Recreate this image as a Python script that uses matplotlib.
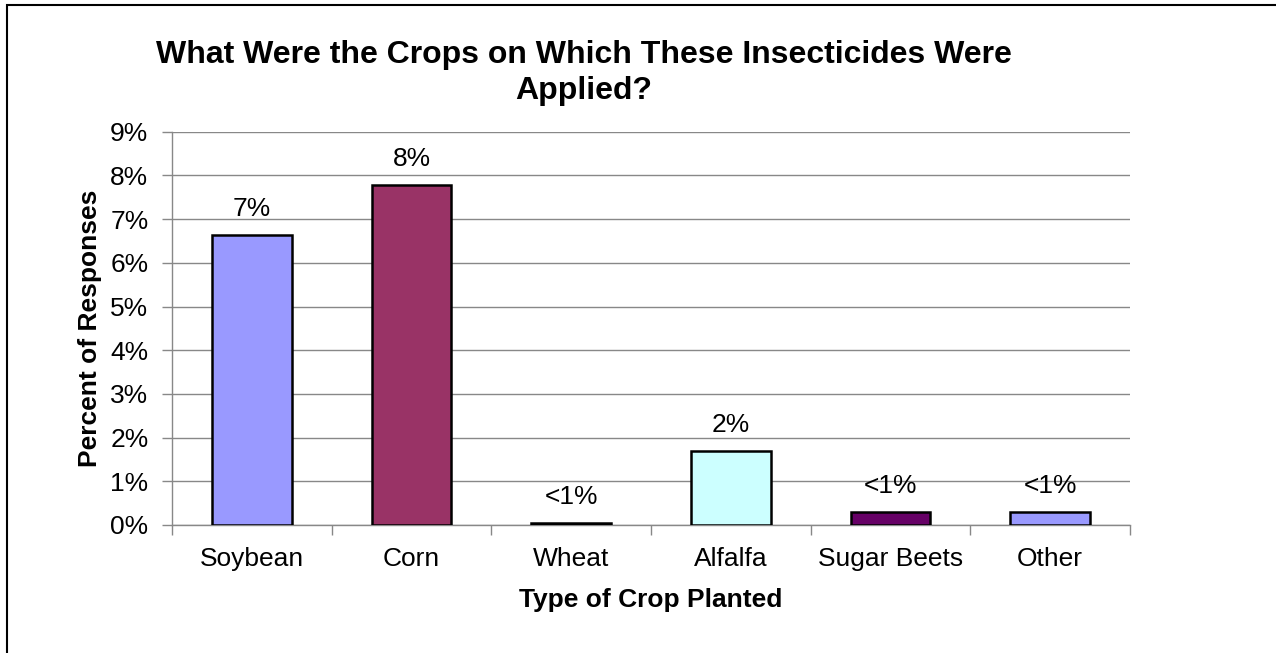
import matplotlib.pyplot as plt
import matplotlib.patches as mpatches
from matplotlib.ticker import FuncFormatter

crops = ["Soybean", "Corn", "Wheat", "Alfalfa", "Sugar Beets", "Other"]
percent = [6.64, 7.78, 0.05, 1.70, 0.30, 0.30]
bar_labels = ["7%", "8%", "<1%", "2%", "<1%", "<1%"]
bar_colors = ["#9999FF", "#993366", "#FFFFCC", "#CCFFFF", "#660066", "#9999FF"]

plt.rcParams['font.family'] = ['Liberation Sans', 'DejaVu Sans']

fig = plt.figure(figsize=(12.76, 6.53), dpi=100)
ax = fig.add_axes([172 / 1276, 128 / 653, 958 / 1276, 393.3 / 653])

x = list(range(len(crops)))
ax.bar(x, percent, width=0.5, color=bar_colors, edgecolor="black", linewidth=1.8, zorder=3)

for xi, v, lab in zip(x, percent, bar_labels):
    ax.annotate(lab, (xi, v), xytext=(0, 10), textcoords="offset points",
                ha="center", va="bottom", fontsize=19, zorder=4)

ax.set_xlim(-0.5, len(crops) - 0.5)
ax.set_ylim(0, 9)
ax.set_yticks(range(0, 10))
ax.yaxis.set_major_formatter(FuncFormatter(lambda v, p: f"{v:.0f}%"))
ax.set_xticks(x)
ax.set_xticklabels(crops)
ax.set_xticks([i - 0.5 for i in range(len(crops) + 1)], minor=True)
ax.tick_params(axis="x", which="major", length=0, pad=16, labelsize=19)
ax.tick_params(axis="x", which="minor", length=7, color="#888888", width=1)
ax.tick_params(axis="y", length=7, color="#888888", width=1, pad=10, labelsize=19)

ax.grid(axis="y", color="#888888", linewidth=1, zorder=0)
for side in ["top", "right"]:
    ax.spines[side].set_visible(False)
for side in ["left", "bottom"]:
    ax.spines[side].set_color("#888888")
    ax.spines[side].set_linewidth(1)

ax.set_ylabel("Percent of Responses", fontsize=19, fontweight="bold", labelpad=6)
ax.set_xlabel("Type of Crop Planted", fontsize=19, fontweight="bold", labelpad=12)

fig.text(584 / 1276, 1 - 73 / 653, "What Were the Crops on Which These Insecticides Were\nApplied?",
         ha="center", va="center", fontsize=23, fontweight="bold", linespacing=1.25)

# chart border (cropped at right and bottom)
fig.add_artist(mpatches.Rectangle((7 / 1276, -0.1), 1.2, 1 - 5 / 653 + 0.1, transform=fig.transFigure,
                                  fill=False, edgecolor="black", linewidth=1.5))

fig.savefig("out.png", dpi=100)
